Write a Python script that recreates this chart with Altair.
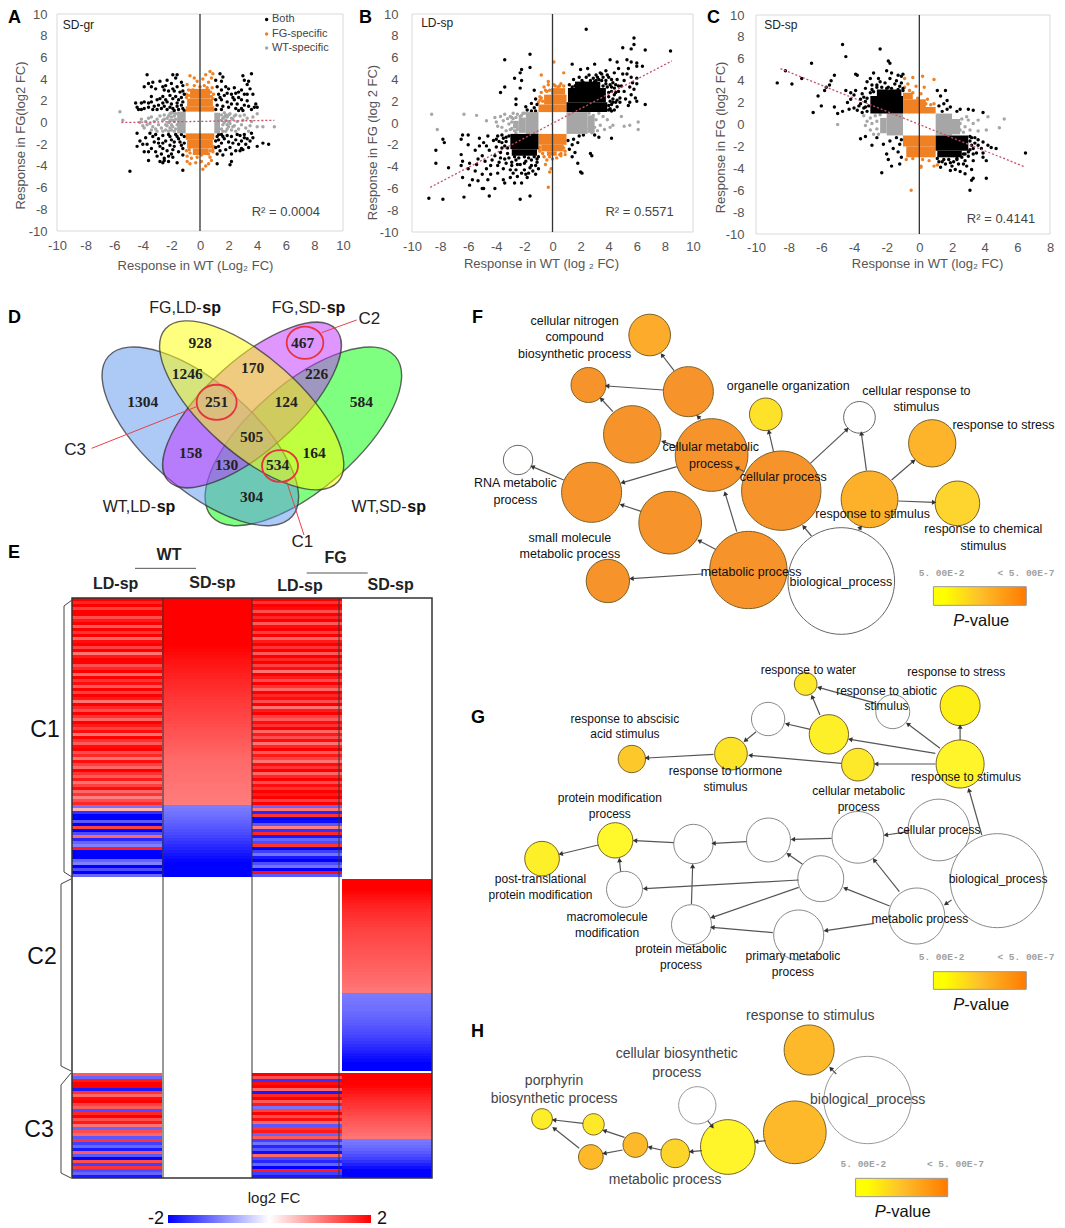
import math
import altair as alt
import pandas as pd

W, H = 1049, 1219
SANS = "Liberation Sans"
BLACK, ORANGE, GRAY = "#000000", "#f08024", "#a6a6a6"

# ---------- scatter data (log2 FC in WT, log2 FC in FG) ----------
A_both = [(-3.7,4.4),(-1.9,4.4),(-1.6,4.4),(-3.3,3.7),(-3.6,3.6),(-3.9,3.3),(-3.4,3.3),(-2.8,3.8),(-2.3,3.9),(-2,3.6),(-1.7,4.1),(-1.3,3.7),(-2.6,3.3),(-2.5,3),(-1.9,3.1),(-1.8,2.9),(-1.2,3.4),(-1.4,2.8),(-1.1,2.6),(-2.6,2.4),(-2.1,2.5),(-1.7,2.4),(-1.3,2.3),(-2.8,2.2),(-3.4,1.9),(-3.9,1.9),(-4.1,1.8),(-4.5,1.8),(-4.4,1.4),(-3.9,1.3),(-3.6,1.4),(-3.2,1.5),(-2.9,1.6),(-2.6,1.8),(-2.3,1.9),(-2,1.7),(-1.6,1.8),(-1.2,1.9),(-2.7,1.3),(-2.3,1.2),(-1.9,1.3),(-1.5,1.2),(-1.2,1.3),(-1.1,1.1),(-4.1,1.2),(-3,1.2),(-2.5,1.5),(-1.8,1.1),(-2.2,2.9),(-1.6,3.3),(-1.5,2.1),(-2.4,2.1),(-1.9,2.2),(-1.3,1.6),(-1.6,1.5),(-2.1,1.4),
(1.4,4.5),(1.6,4.2),(1.5,3.8),(1.1,3.9),(3,4.3),(3.6,4.5),(3.1,3.9),(3.4,3.8),(3.3,3.5),(3.5,3.1),(3.7,2.6),(2.9,3),(2.5,2.7),(2.2,2.6),(2,3.1),(1.8,3.3),(1.5,3),(1.2,3.3),(1.3,2.6),(1.7,2.5),(2.7,2.3),(2.4,2.1),(2.9,2.1),(3.3,2),(1.1,2.1),(1.5,2.1),(1.9,1.9),(2.2,1.7),(2.6,1.7),(3.1,1.6),(3.4,1.5),(3.9,1.7),(4,1.4),(3.6,1.2),(1.2,1.6),(1.6,1.5),(2,1.4),(2.5,1.3),(1.1,1.2),(1.5,1.2),(2.9,1.3),
(-4.9,-4.5),(-3.6,-3.5),(-2.8,-3.6),(-2.5,-3.5),(-2.2,-3.6),(-2.5,-3.3),(-2.6,-3.7),(-1.2,-4.4),(-1.6,-3.7),(-1.9,-3.2),(-2,-2.9),(-2.3,-2.6),(-2.6,-2.4),(-2.8,-2.2),(-3.1,-2.7),(-3.4,-2.4),(-3.6,-2.7),(-3.9,-2.7),(-4,-2),(-4.2,-1.7),(-4.4,-2.2),(-4.4,-1),(-3.5,-1),(-3.3,-1.3),(-3.1,-1.1),(-3.2,-1.8),(-2.9,-1.5),(-2.6,-1.2),(-2.4,-1.7),(-2.2,-1.1),(-2,-1.6),(-1.8,-2.2),(-1.6,-1.3),(-1.4,-1.8),(-1.2,-2.4),(-1.1,-1.3),(-1.3,-1.1),(-1.7,-1.1),(-1.9,-2.5),(-1.5,-2.7),(-1.2,-3),(-2.1,-2.1),(-2.9,-1.9),(-1.1,-1.9),
(1.2,-3.8),(2.1,-3.9),(2.2,-3.6),(1.6,-3),(1.2,-2.9),(1.1,-2.3),(1.4,-2.6),(1.1,-1.7),(1.2,-1.3),(1.5,-1.1),(1.7,-1.5),(2,-1.8),(2.2,-1.3),(2.5,-1.6),(2.8,-1.2),(3.1,-1.1),(3.3,-1.5),(3.6,-1),(3.2,-2),(2.9,-2.4),(2.7,-2),(2.5,-2.6),(2.2,-2.9),(3,-2.5),(3.4,-2.3),(4,-2.2),(4.4,-1.9),(4.8,-2),(3.5,-1.7),(2.1,-2.3),(1.5,-1.9),(1.8,-2.5),
(-3.4,2.4),(-3,2.1),(-3.1,3.1),(-2.4,3.4),(-1.2,2.9),(-3.6,1.8),(-3.3,1.2),(-4.3,1.2),(2.4,3.2),(2.7,2.8),(3.1,2.6),(3.3,2.6),(1.4,2.3),(1.9,2.7),(2.3,2.3),(3,1.1),(3.8,1.4),(2.7,1.1),(-3.8,-1.4),(-3.7,-2),(-3,-3.1),(-2.7,-2.9),(-2.2,-3.1),(-2.6,-1.9),(-2.1,-1.3),(-1.5,-1.5),(-1.8,-1.8),(-1.3,-2.1),(1.3,-1.1),(1.3,-1.6),(1.6,-1.3),(1.9,-1.2),(2.3,-1.9),(2.6,-1.1),(2.9,-1.7),(3.1,-1.4),(2.8,-2.6),(1.3,-2.2),(3.7,-1.4)]
A_fg = [(-.7,4.3),(-.4,4.1),(.7,4.7),(.9,4.5),(.4,4.4),(.8,4.1),(.2,4),(-.2,3.8),(.6,3.7),(-.9,3.5),(-.8,3),(-.95,2.6),(.95,2.6),(.85,3.2),(.9,2.2),(.3,3.4),(-.4,3.4),(-.9,-3.6),(-.7,-3.8),(-.3,-3.7),(.1,-3.6),(.2,-4.3),(.4,-4),(.6,-3.8),(.8,-3.5),(-.6,-3.3),(-.9,-3.1),(-.2,-3.2),(.7,-3.2),(.9,-2.7),(-.95,-2.6),(.95,-2.2),(-.7,-2.8),(.6,-2.9),(-.95,2.3),(-.8,2.5),(.8,2.4),(.75,2.8),(-.75,-2.5),(.7,-2.6),(.9,-2.5),(-.5,3),(.5,3.2),(0,3.3),(-.3,-2.8),(.1,-3)]
A_wt = [(-5.6,1),(-5.4,.2),(-4.1,.3),(-4,-.3),(-3.9,-.5),(-3.8,.1),(-3.6,.4),(-3.5,-.1),(-3.4,.5),(-3.3,-.4),(-3.2,.1),(-3.1,-.6),(-3,.3),(-2.9,-.2),(-2.8,.6),(-2.7,-.5),(-2.6,.2),(-2.5,.7),(-2.4,-.2),(-2.4,-.7),(-2.3,.4),(-2.2,0),(-2.1,.8),(-2.1,-.5),(-3.7,-.2),(-3.4,-.7),(-3,-.8),(-2.6,-.8),(-2,.5),(-2,-.2),(-1.9,.9),(-1.8,-.8),(-4.2,0),(5.2,-.4),(4.4,-.4),(4,-.4),(4,.8),(3.7,.5),(3.6,.1),(3.5,-.3),(3.3,.4),(3.2,-.5),(3,.2),(2.9,-.2),(2.8,.6),(2.7,-.6),(2.6,.1),(2.5,.7),(2.4,-.3),(2.3,.3),(2.2,-.7),(2.1,.8),(2,.1),(2,-.4),(1.9,.5),(1.8,-.8),(1.7,.9),(1.7,0),(1.6,.4),(1.5,-.6),
(-2.5,.3),(-2.3,-.3),(-2.2,.6),(-2.2,-.8),(-2.1,.2),(-2,.9),(-2,-.7),(-1.9,.2),(-1.9,-.4),(-1.8,.6),(-1.8,.1),(-1.7,-.6),(-1.7,.8),(-1.7,.3),(-1.6,-.2),(1.5,.7),(1.5,.2),(1.6,-.2),(1.6,-.8),(1.7,.5),(1.8,.2),(1.8,.7),(1.9,-.2),(1.9,-.6),(2,.7),(2.1,-.1),(2.2,.4),(2.3,-.4),(2.4,.6),(2.5,-.8),(3.1,.7),(3.4,-.8)]
A_blocks = [(-1,1,1,1.5,ORANGE),(-.9,.9,1.5,2.2,ORANGE),(-.7,.7,2.2,3.1,ORANGE),(-1,1,-1,-1.6,ORANGE),(-.9,.9,-1.6,-2.4,ORANGE),(-.5,.6,-2.4,-3,ORANGE),(-1.6,-1,-1,1,GRAY),(1,1.4,-1,.9,GRAY)]

B_both = [(2.4,8.6),(5.8,7.8),(5.8,7.2),(5.6,6.8),(5,6.9),(6.6,6.7),(8.4,6.6),(-3.4,5.8),(-1.6,6.3),(-2.2,4.9),(-2.3,4.6),(-1.6,5.1),(-2.7,4.1),(-2.2,3.9),(-3.7,2.8),(-2.3,3.2),(-3.4,3.3),(-2.6,2.2),(-1.3,3),(-2.6,1.7),(-1.9,1.5),(-1.5,1.8),(-1.2,2.2),(-1.3,1.4),(-1.8,1.2),(-1.5,1.1),(-1.2,1.1),(-1.1,1.7),
(1.4,5.4),(2,4.9),(2.5,5),(3,5.4),(4.1,5.8),(4.6,5.6),(5.3,5.8),(5.6,5.6),(6,5.5),(6,5.2),(6.4,5.2),(4.7,5),(5.4,5),(3.8,4.8),(3.4,4.6),(4.4,4.6),(5,4.5),(5.3,4.5),(5.6,4.2),(6,4.1),(4,4.2),(3.6,4.2),(2.9,4.1),(2.4,4.2),(1.9,4.2),(1.5,4),(4.6,4),(5.1,3.9),(5.7,3.7),(6,3.6),(4.3,3.7),(4.9,3.4),(5.5,3.3),(5.8,3.1),(4.4,3.2),(5.1,2.9),(4.7,2.9),(5.6,2.6),(5.9,2.3),(6.6,1.7),(5.2,2.2),(4.8,2.3),(4.4,2.6),(5.5,1.9),(4.3,1.9),(4.6,1.5),(4.1,1.3),(4.2,1.7),(3.3,4),(2.2,3.7),(1.4,3.3),(1.2,3.5),(5.4,1.6),(6,2),(4.1,3.5),(3.8,3.9),(3.1,4.4),(2.7,3.9),(4.2,2.9),(4,2.4),
(1.9,-1.2),(1.5,-1.5),(1.1,-1.6),(1.4,-2),(1.8,-1.8),(2.2,-1.1),(1.2,-2.4),(1.6,-2.7),(1.4,-3.1),(1.8,-3.7),(2,-4.5),(2.1,-4.6),(2.7,-2.8),(2.8,-3),(3.3,-1.3),(4.2,-1.4),(3,-1.1),
(-8.8,-6.9),(-7.8,-7),(-6.3,-6.8),(-2.3,-7),(-1.6,-6.7),(-4.5,-6.7),(-5,-6),(-4.9,-6),(-4.1,-6),(-5.9,-5.7),(-6.4,-5),(-5.7,-5.2),(-5.3,-5.3),(-4.6,-5.2),(-3.4,-5.5),(-2.7,-5.5),(-2.2,-5.5),(-3.5,-5.2),(-3,-5),(-2.5,-4.9),(-1.8,-5),(-3.9,-4.6),(-4.4,-4.7),(-5,-4.7),(-5.5,-4.4),(-6,-4.2),(-6.5,-3.9),(-8.3,-3.7),(-7.4,-4.1),(-8.3,-2.5),(-7.8,-1.5),(-7.7,-1.8),(-6.4,-1.1),(-6.5,-1.5),(-6.5,-2.9),(-6.4,-3.5),(-6,-2),(-6,-1.1),(-5.9,-3.7),(-5.4,-3.8),(-5.5,-2.5),(-5.2,-1.4),(-5.2,-2.1),(-5,-3),(-4.9,-1.8),(-4.8,-3.5),(-4.6,-1.2),(-4.5,-2.5),(-4.4,-3.9),(-4.2,-1.6),(-4.1,-3),(-4,-2.2),(-3.9,-1.2),(-3.8,-3.6),(-3.7,-2.7),(-3.6,-1.8),(-3.5,-4.2),(-3.4,-3.3),(-3.3,-1.3),(-3.2,-2.3),(-2.9,-3.6),(-2.6,-3.4),(-2.3,-3.8),(-2,-4.3),(-1.7,-4.6),(-1.4,-4.4),(-1.2,-3.9),(-1.5,-3.4),(-1.1,-3.3),(-1.9,-3.5),(-1,-4.2),(-2.6,-4.3),(-1.2,-4.7),(-3,-4.3),(-4.7,-4.2),(-5.3,-3.3),(-4.3,-3.4),(-3.6,-2.3),(-4.7,-2.1),(-3.9,-3.9),
(4,1.2),(4.2,1.1),(4,1.6),(4.4,1.2),(4.1,2),(4.3,2.2),(4,2.8),(4.2,3.3),(3.9,3.3),(3.6,3.4),(3.8,3.6),(3.5,3.9),(3.1,3.9),(2.7,3.7),(2.4,3.6),(2,3.4),(1.7,3.5),(1.4,3),(1.6,3.4),(2.1,3.9),(3,3.8),(4.6,2.1),(4.5,1.9),(4.8,1.9),(4.5,2.8),(4.7,3.4),(4.5,3.5),(4.2,4),(3.9,4.4),(3.2,4.2),(2.6,4.4),(3.5,4.5),
(-3.1,-1.2),(-3.3,-1.7),(-3.2,-2.8),(-3.4,-2.1),(-3.5,-1.4),(-3.1,-3.2),(-3.3,-3.7),(-2.7,-3.1),(-2.4,-3.2),(-2,-3.1),(-1.7,-3.2),(-1.3,-3.1),(-2.9,-3.9),(-2.5,-3.8),(-2,-3.7),(-1.5,-3.9),(-3.7,-3.2),(-3.8,-1.7),(-4,-1.5),(-3.6,-1.1),(-2.8,-4.6),(-2.2,-4.6),(-1.9,-4.7),(-1.6,-4.1),(-1.1,-3.6),(-1,-3.1)]
B_fg = [(.1,5.6),(.8,4.6),(-.8,4.4),(-.3,3.8),(-.3,3.5),(-.5,3),(-.8,2.8),(-.9,2.4),(.1,3.5),(.4,3.3),(.6,3.6),(-.6,3.3),(-.3,-5.9),(-.2,-4.5),(-.1,-4.2),(-.5,-3.8),(-.4,-3.4),(.3,-3.2),(.6,-3),(.9,-2.9),(-1,1.9),(-.9,2.1),(-.7,2),(-.8,2.3),(-.4,2.9),(-.2,3),(.2,3.4),(.5,3.4),(.8,3.4),(-.9,-2.2),(-.95,-2.4),(-.9,-2.6),(-.7,-2.8),(-.6,-3.1),(.6,-2.8),(.8,-2.3),(.9,-2.6),(.5,-2.9),(0,-3.3),(-.2,-3.1)]
B_wt = [(-8.6,.8),(-8.2,-.6),(-6.3,.8),(-5.4,.7),(-4.7,.2),(-4.1,.5),(-4,.1),(-3.9,-.3),(-3.7,.6),(-3.6,-.4),(-3.5,.2),(-3.4,.8),(-3.3,-.7),(-3.2,.4),(-3.1,-.1),(-3,.6),(-3,-.6),(-2.9,.1),(-2.8,.9),(-2.7,-.3),(-2.6,.5),(-2.6,-.9),(6.1,.1),(6.1,-.6),(5.5,-.2),(4.9,.6),(5.1,-.3),(4.3,-.2),(4.1,-.4),(3.9,.3),(3.7,-.6),(3.6,.6),(3.4,-.2),(3.3,.9),(3.2,-.7),(3.1,.3),(3,-.4),(2.9,.7),(2.8,-.9),(2.7,.1),(2.6,.9),(2.6,-.5),(-2.8,.4),(-2.9,.5),(-2.5,.8),(-2.2,.7),(-2.1,.9),(-2.3,.6),(-2,.9),(-2.9,-.5),(-2.7,-.7),(-2.5,-.6)]
B_blocks = [(-1.9,-1,-1,1,GRAY),(-2.4,-1.9,-.9,.5,GRAY),(-2.8,-2.4,-.5,.2,GRAY),(1,2.5,-1,1,GRAY),(2.5,3,-.9,.7,GRAY),(-1,1,1,1.7,ORANGE),(-.6,1,1.7,2.6,ORANGE),(-.1,.9,2.6,3.2,ORANGE),(-1,1,-1,-2,ORANGE),(-.8,.8,-2,-2.6,ORANGE),(-.4,.3,-2.6,-3,ORANGE),(1,3.9,1,1.9,BLACK),(1.1,3.8,1.9,3.2,BLACK),(1.6,3.4,3.2,3.8,BLACK),(-3,-1,-1,-2.4,BLACK),(-2.9,-1.1,-2.4,-3,BLACK)]

C_both = [(-4.7,7.3),(-4.5,6.2),(-2.4,6.9),(-6.6,5.6),(-1.9,5.8),(-1.8,5.6),(-8.2,4.9),(-7.2,4.2),(-8.7,3.8),(-7.8,3.7),(-5.2,4.5),(-5.4,4),(-5.5,3.6),(-5.7,3.4),(-5.8,3.1),(-6.2,2.6),(-6.5,1.1),(-6,1.7),(-5.2,1.6),(-4.7,1.2),(-5,1),(-4.3,1.4),(-4.4,2),(-4,1.5),(-3.8,1.3),(-4.5,3.1),(-4.2,2.9),(-4,2.7),(-3.9,3.1),(-3.6,2.3),(-3.3,2.1),(-3.1,1.7),(-3.9,4.6),(-3.8,4.5),(-3.2,3.9),(-3,4.2),(-2.8,4.7),(-2.5,4.2),(-2,4.9),(-1.7,4.7),(-1.3,4.5),(-1.1,4.4),(-1.8,4.2),(-1,4.6),(-2.6,3.6),(-2.1,3.8),(-1.5,3.7),(-3.3,3.3),(-2.9,3.2),(-1.2,3.5),(-1.9,3.4),(-3.5,2.8),(-1,3.3),(-3.4,1.5),(-3.7,1.7),(-4.2,2.3),
(1.1,3.1),(1.6,3.1),(1.3,2.6),(1.7,2.2),(1.5,1.9),(1.2,1.7),(2.5,1.4),(3,1.4),(3.3,1.3),(2.3,1.2),(1.9,1.6),(1.4,1.2),(1.7,1.4),(3.9,1.1),
(-3.6,-1.3),(-3.3,-1.1),(-2.9,-1.9),(-2.6,-1.2),(-2.3,-4.4),(-1.9,-3.2),(-1.7,-3.8),(-1.2,-3.6),(-1.1,-3),(-1.3,-2.5),(-2,-2.7),(-1.6,-2.2),(-1.2,-1.8),(-1.8,-1.5),(-1.4,-1.2),(-1.1,-1.4),(-2.2,-1.8),
(6.5,-2.6),(4.7,-2.2),(3.9,-1.6),(4.2,-1.9),(4.4,-2.1),(3.8,-2.2),(3.9,-2.6),(4.1,-3.3),(4.1,-4.9),(3.9,-3),(3.4,-1.2),(3.6,-1.9),(3.3,-3.3),(3.2,-4.1),(3.3,-4.9),(3.2,-5.1),(3.1,-6),(2.8,-4.5),(2.5,-4.3),(2.2,-4.1),(2.4,-3.6),(2,-3.8),(1.6,-3.6),(1.3,-3.9),(2.8,-3.3),(3,-2.9),(3.3,-2.2),(3.5,-2.6),(1.2,-3.4),(1.8,-3.2),(2.3,-3.2),(2.7,-2.7),(3.1,-1.5),(3.4,-1.7),(3.1,-2.3),
(-3.2,1.2),(-3.3,1.6),(-3.2,2.4),(-3,2.9),(-2.8,3),(-2.6,3.4),(-2.3,3.4),(-2,3.3),(-1.7,3.3),(-1.3,3.2),(-1,3.1),(-3.5,1.1),(-3.6,1.9),(-3.4,2.5),(-2.4,3.9),(-1.4,4),(-2.9,3.6),(-1.1,3.8),
(3.1,-1.1),(3.2,-1.9),(3,-2.5),(2.8,-2.7),(2.6,-3),(2.3,-3.1),(1.9,-3.5),(1.5,-3.2),(1.1,-3.1),(2.7,-3.6),(3.3,-2.7),(3.2,-1.2),(3.6,-1.4),(2.9,-3.8),(2.1,-3.4),(1.4,-3.4),(1.9,-4.2)]
C_fg = [(-.9,4.2),(-.4,4.3),(.2,4.4),(.9,4.1),(-.7,3.7),(-.2,3.5),(.3,3.4),(-.9,3.4),(-.6,3.1),(-.4,2.9),(.1,2.8),(.5,2.3),(.9,1.9),(.7,1.8),(-.1,2.4),(.4,1.9),(-.5,-6),(.1,-3.8),(.1,-3.9),(1.1,-3.7),(.9,-3.8),(.6,-3.3),(.2,-3.2),(-.4,-3.1),(-.8,-3.2)]
C_wt = [(-5,0),(-3.4,.8),(-3.2,.3),(-3.3,-.1),(-3,.6),(-3,-.5),(-2.9,.1),(-2.8,-.9),(-2.7,.8),(-2.6,.3),(-2.6,-.4),(-2.5,-.9),(-2.4,.9),(5.2,.5),(4.9,-.3),(4.2,.7),(4.1,-.5),(3.6,-.6),(3.6,.4),(3.3,.1),(3.1,-.5),(3,.4),(2.9,.7),(2.8,-.2),(2.7,-.7),(2.6,.5),(2.5,.1),(2.5,-.5)]
C_blocks = [(-2,-1,-1,1,GRAY),(-2.4,-2,-.8,.6,GRAY),(1,2,-1,1,GRAY),(2,2.5,-.9,.5,GRAY),(-1,1,1,1.6,ORANGE),(-1,.4,1.6,2.3,ORANGE),(-1,-.4,2.3,2.9,ORANGE),(-1,1,-1,-2,ORANGE),(-.8,1,-2,-3,ORANGE),(-3,-1,1,2.6,BLACK),(-2.6,-1.1,2.6,3.2,BLACK),(1,3,-1,-2.4,BLACK),(1.1,2.6,-2.4,-3,BLACK)]

# ---------- heat map (log2 FC per gene row) ----------
COLS = ["WT LD-sp", "WT SD-sp", "FG LD-sp", "FG SD-sp"]
C1_wt_ld = [2,1.7,2,1.5,2,2,1.4,1.8,2,1.3,2,1.6,2,1.2,1.9,2,1.5,2,1.1,1.8,2,2,1.4,1.7,2,1.2,2,1.6,1.9,1.3,2,1.5,2,1.8,1.1,2,1.7,1.4,2,1.6,1.2,2,1.8,1.5,1.9,1.1,2,1.6,1.3,1.9,2,1.4,1.7,1.1,1.9,1.5,1.2,2,1.6,1.3,1.8,1.1,1.5,1.9,1.2,1.6,1.0,1.4,1.7,-1.1,.6,-1.6,-2,-2,-1.3,-2,1.5,-2,-1.4,1.2,-1.7,-1.2,-1,1.8,-2,-2,-2,-1.2,-1,-2,-1.4,-2,-1.2]
C1_wt_sd = [2,2,2,2,2,2,2,2,2,2,2,2,2,2,2,2,1.98,1.95,1.92,1.9,1.87,1.85,1.82,1.8,1.78,1.75,1.73,1.7,1.68,1.66,1.64,1.62,1.6,1.58,1.56,1.54,1.52,1.5,1.48,1.46,1.44,1.42,1.4,1.38,1.36,1.34,1.32,1.3,1.28,1.26,1.24,1.22,1.2,1.18,1.17,1.16,1.15,1.14,1.13,1.12,1.11,1.1,1.09,1.08,1.07,1.06,1.05,1.04,1.03,-1.03,-1.06,-1.1,-1.14,-1.18,-1.22,-1.27,-1.32,-1.37,-1.42,-1.48,-1.54,-1.6,-1.66,-1.72,-1.78,-1.84,-1.9,-1.95,-2,-2,-2,-2,-2]
C1_fg_ld = [2,1.6,2,1.9,1.4,2,1.7,2,1.3,1.9,2,1.5,2,1.2,1.8,2,1.6,2,1.3,2,1.7,2,1.5,1.9,1.1,2,1.8,1.4,2,1.6,1.2,2,1.7,1.9,1.4,2,1.1,1.8,2,1.5,1.3,1.9,1.6,2,1.2,1.8,1.4,1.9,1.1,1.7,2,1.3,1.8,1.5,1.1,1.9,1.6,2,1.2,1.7,2,1.4,1.9,1.6,2,1.8,2,1.5,2,-1.2,1.1,-1.7,1.6,-2,-1.9,-1.3,1,-1.6,1.7,-1.8,-1.2,-1.4,1.6,-2,-1.5,-1.1,-1.8,-2,-1.4,-1.1,-2,1.9,-1.3]
C2_fg_sd = [2,2,2,2,1.95,1.9,1.85,1.8,1.76,1.72,1.68,1.65,1.62,1.59,1.56,1.53,1.5,1.48,1.46,1.44,1.42,1.4,1.38,1.36,1.34,1.32,1.3,1.28,1.26,1.24,1.22,1.2,1.18,1.16,1.14,1.12,1.09,1.06,-1.04,-1.06,-1.08,-1.1,-1.12,-1.14,-1.17,-1.2,-1.23,-1.26,-1.3,-1.34,-1.38,-1.42,-1.47,-1.52,-1.58,-1.64,-1.7,-1.76,-1.82,-1.88,-1.94,-2,-2,-2]
C3_wt_ld = [1.3,-1.2,1.8,2,2,-1.8,1.6,1.2,1.9,2,1.5,1.3,-1.4,1.7,2,1.4,1.8,1.1,-1.2,1.4,1.2,-1.3,1.6,-1.5,-1.2,-1.8,1.3,-1.3,-2,1.4,-1.5,1.6,-1.4,-1.2,-1.8]
C3_fg_ld = [2,1.4,-1.6,1.9,2,1.2,-1.8,1.7,2,1.3,1.8,-1.1,1.5,2,1.4,1.9,1.2,-1.3,1.6,1.8,-1.2,1.3,-1.5,-1.1,-1.7,-1.3,-1.9,1.2,-1.4,-1.7,-1.2,-2,1.8,-1.5,-1.8]
C3_fg_sd = [2,2,2,2,1.95,1.88,1.82,1.76,1.7,1.65,1.6,1.55,1.5,1.45,1.4,1.35,1.3,1.26,1.22,1.18,1.13,1.08,-1.05,-1.1,-1.15,-1.22,-1.3,-1.4,-1.5,-1.62,-1.75,-1.88,-2,-2,-2]

# ---------- Venn ----------
venn_counts = [(600,158,"928"),(908,158,"467"),(562,252,"1246"),(758,233,"170"),(950,252,"226"),(428,337,"1304"),(650,337,"251"),(858,337,"124"),(1084,337,"584"),(755,440,"505"),(572,488,"158"),(942,488,"164"),(680,525,"130"),(833,525,"534"),(755,620,"304")]
venn_sets = [  # x, y, long diameter, angle, minor ratio, colour (in panel units); drawn in this order
    (910,439,731,319,.434,"#00ff00"),(601,439,731,41,.434,"#5b94ee"),(756,345,678,318,.40,"#c030ff"),(755,346,692,41.5,.417,"#ffff00")]
venn_plain = [(605,55,"FG,LD-"),(978,55,"FG,SD-"),(468,652,"WT,LD-"),(1220,652,"WT,SD-")]
venn_bold = [(607,55,"sp"),(980,55,"sp"),(470,652,"sp"),(1222,652,"sp")]
venn_marks = [(915,158,110,"C2"),(650,337,120,"C3"),(840,528,108,"C1")]
venn_callouts = [(965,128,1070,90),(590,350,275,475),(860,575,912,735)]
venn_callout_text = [(1108,87,"C2"),(225,480,"C3"),(907,757,"C1")]
heat_head = [(507,795,"WT"),(1007,805,"FG"),(347,882,"LD-sp"),(637,878,"SD-sp"),(900,888,"LD-sp"),(1172,885,"SD-sp")]
heat_head_rules = [(405,835,588,835),(920,849,1103,849)]

# ---------- networks: x, y, diameter, fill ----------
O1, Y1 = "#f7932b", "#fde229"
WHITE = "#ffffff"
F_nodes = [(490,105,125,"#fdab2a"),(332,255,105,O1),(590,275,150,O1),(445,403,172,O1),(650,465,218,O1),(150,480,88,WHITE),(340,577,180,O1),(543,668,188,O1),(382,843,130,O1),(745,810,232,O1),(985,843,320,WHITE),(830,572,238,O1),(790,343,98,Y1),(1032,352,95,WHITE),(1058,598,170,"#fdb02a"),(1220,430,142,"#fdb42a"),(1285,610,134,"#fed52f")]
F_edges = [(625,822,443,836),(660,748,618,722),(715,695,685,580),(908,708,888,680),(1030,690,1035,682),(468,634,418,615),(268,540,187,500),(560,500,420,548),(560,440,525,425),(395,335,365,297),(525,270,380,258),(553,212,522,165),(622,358,615,350),(810,455,798,395),(905,490,1000,388),(1050,512,1037,400),(1115,540,1172,483),(1132,603,1225,607),(735,515,715,503)]
F_labels = [(296,62,"cellular nitrogen"),(296,112,"compound"),(296,162,"biosynthetic process"),(848,258,"organelle organization"),(1179,272,"cellular response to"),(1179,322,"stimulus"),(1404,376,"response to stress"),(648,440,"cellular metabolic"),(648,491,"process"),(835,530,"cellular process"),(143,550,"RNA metabolic"),(143,601,"process"),(1066,642,"response to stimulus"),(1352,687,"response to chemical"),(1352,737,"stimulus"),(284,713,"small molecule"),(284,763,"metabolic process"),(752,815,"metabolic process"),(984,845,"biological_process")]

G_nodes = [(893,102,68,"#fde829"),(1118,185,102,WHITE),(1292,167,120,"#fdf019"),(796,207,100,WHITE),(953,253,118,"#fdf029"),(700,311,98,"#fde429"),(444,327,82,"#fdc92a"),(1028,344,98,"#fde929"),(1292,342,144,"#fff52a"),(1237,540,185,WHITE),(1028,562,155,WHITE),(797,570,132,WHITE),(603,582,118,WHITE),(401,571,106,"#fff82a"),(212,626,104,"#fdf029"),(425,718,108,WHITE),(932,686,138,WHITE),(1388,692,282,WHITE),(1180,798,168,WHITE),(598,824,120,WHITE),(875,855,150,WHITE)]
G_edges = [(1228,310,1008,268),(1228,342,1075,342),(985,340,750,316),(905,238,845,222),(930,195,910,140),(1075,160,928,113),(1240,295,1157,222),(1292,270,1292,230),(1348,555,1315,420),(655,313,483,324),(765,245,737,272),(1160,545,1100,555),(960,565,860,568),(740,575,655,580),(552,578,452,572),(357,585,260,612),(875,690,478,716),(415,665,412,630),(885,643,848,613),(875,712,652,802),(598,762,601,648),(808,848,652,832),(1110,768,995,715),(1135,725,1070,630),(1070,820,945,842),(1270,750,1255,762)]
G_labels = [(900,60,"response to water"),(1282,67,"response to stress"),(1102,122,"response to abiotic"),(1102,168,"stimulus"),(426,206,"response to abscisic"),(426,253,"acid stimulus"),(686,363,"response to hormone"),(686,410,"stimulus"),(1307,381,"response to stimulus"),(1030,423,"cellular metabolic"),(1030,471,"process"),(387,443,"protein modification"),(387,491,"process"),(1237,540,"cellular process"),(1390,686,"biological_process"),(208,687,"post-translational"),(208,734,"protein modification"),(380,800,"macromolecule"),(380,848,"modification"),(1188,808,"metabolic process"),(571,896,"protein metabolic"),(571,944,"process"),(860,918,"primary metabolic"),(860,966,"process")]

H_nodes = [(902,150,150,"#fdb92a"),(1053,300,262,WHITE),(613,316,112,WHITE),(865,397,188,"#fdb92a"),(692,441,164,"#fff52a"),(556,460,86,"#fdd52a"),(453,435,74,"#fdb92a"),(338,471,74,"#fdb92a"),(345,373,64,"#fde829"),(212,357,62,"#fdee29")]
H_edges = [(972,222,958,205),(790,422,765,425),(625,452,597,455),(520,450,490,442),(420,450,373,460),(425,412,373,392),(318,370,243,360),(308,445,243,385),(640,362,652,380)]
H_labels = [(905,48,"response to stimulus"),(560,162,"cellular biosynthetic"),(560,220,"process"),(243,242,"porphyrin"),(243,298,"biosynthetic process"),(1053,300,"biological_process"),(530,541,"metabolic process")]

letters = [(8,23,"A"),(359,23,"B"),(707,23,"C"),(8,323,"D"),(8,558,"E"),(472,323,"F"),(471,723,"G"),(471,1037,"H")]


class Panel:
    def __init__(self, xd, xr, yd, yr):
        self.xs = alt.Scale(domain=xd, range=xr, nice=False, zero=False)
        self.ys = alt.Scale(domain=yd, range=yr, nice=False, zero=False)

    def X(self, axis=None):
        return alt.X("x:Q", scale=self.xs, axis=axis)

    def Y(self, axis=None):
        return alt.Y("y:Q", scale=self.ys, axis=axis)


def pts(p, rows, color, size):
    df = pd.DataFrame(rows, columns=["x", "y"])
    return alt.Chart(df).mark_point(filled=True, color=color, size=size, opacity=1, strokeWidth=0).encode(x=p.X(), y=p.Y())


def boxes(p, rows, **mark):
    df = pd.DataFrame(rows, columns=["x", "x2", "y", "y2", "c"])
    return alt.Chart(df).mark_rect(**mark).encode(x=p.X(), x2="x2:Q", y=p.Y(), y2="y2:Q", fill=alt.Fill("c:N", scale=None))


def segs(p, rows, color, width, dash=None):
    df = pd.DataFrame(rows, columns=["x", "y", "x2", "y2"])
    kw = {"strokeDash": dash} if dash else {}
    return alt.Chart(df).mark_rule(color=color, strokeWidth=width, **kw).encode(x=p.X(), y=p.Y(), x2="x2:Q", y2="y2:Q")


def txt(p, rows, size, color="#111111", font=SANS, align="center", baseline="middle", **kw):
    df = pd.DataFrame(rows, columns=["x", "y", "t"])
    return alt.Chart(df).mark_text(fontSize=size, color=color, font=font, align=align, baseline=baseline, **kw).encode(x=p.X(), y=p.Y(), text="t:N")


def ell(r):
    return f"M-1,0 A1,{r} 0 1,0 1,0 A1,{r} 0 1,0 -1,0 Z"


def x_axis(ybot, xc, yc, title, size, pad, tsize, vals):
    return alt.Axis(orient="bottom", offset=(ybot - 8) - H, values=vals, ticks=False, domain=False, grid=False,
                    labelFont=SANS, labelFontSize=size, labelColor="#555555", labelPadding=pad, labelOverlap=False,
                    labelExpr="'' + datum.value", labelFlush=False,
                    title=title, titleFont=SANS, titleFontSize=tsize, titleFontWeight="normal", titleColor="#555555",
                    titleX=xc - 8, titleY=yc - ybot, titleBaseline="middle", titleAlign="center")


def y_axis(xleft, xc, yc, title, size, pad, tsize):
    return alt.Axis(orient="left", offset=-(xleft - 8), values=list(range(-10, 11, 2)), ticks=False, domain=False, grid=False,
                    labelFont=SANS, labelFontSize=size, labelColor="#555555", labelPadding=pad, labelOverlap=False,
                    labelExpr="'' + datum.value", labelFlush=False,
                    title=title, titleFont=SANS, titleFontSize=tsize, titleFontWeight="normal", titleColor="#555555",
                    titleX=xc - xleft, titleY=yc - 8, titleBaseline="middle", titleAlign="center")


def scatter(xd, xl, xr, yt, yb, both, fg, wt, blocks, trend, xa, ya, note, r2):
    p = Panel(xd, [xl - 8, xr - 8], [-10, 10], [yb - 8, yt - 8])
    frame = pd.DataFrame([dict(x=xd[0], x2=xd[1], y=-10, y2=10)])
    out = [alt.Chart(frame).mark_rect(fillOpacity=0, stroke="#d9d9d9", strokeWidth=1).encode(
        x=p.X(xa), x2="x2:Q", y=p.Y(ya), y2="y2:Q")]
    out.append(pts(p, wt, GRAY, 12))
    out.append(pts(p, fg, ORANGE, 12))
    out.append(pts(p, both, BLACK, 12))
    out.append(boxes(p, blocks))
    out.append(segs(p, [(0, -10, 0, 10)], "#333333", 1.3))
    out.append(segs(p, [trend], "#c8506a", 1.3, [2, 2]))
    out.append(txt(p, [note], 12, "#222222", align="left"))
    out.append(txt(p, [r2], 13, "#444444"))
    return p, out


layers = []
vals20 = list(range(-10, 11, 2))
pA, l = scatter([-10, 10], 57, 343, 14, 231, A_both, A_fg, A_wt, A_blocks, (-5.5, 0, 5.2, .2),
                x_axis(231, 195, 265, "Response in WT (Log\u2082 FC)", 13, 8, 13, vals20),
                y_axis(57, 20, 135, "Response in FG(log2 FC)", 13, 10, 13),
                (-9.6, 9, "SD-gr"), (6, -8.25, "R\u00b2 = 0.0004"))
layers += l
layers.append(pts(pA, [(4.66, 9.5)], BLACK, 12))
layers.append(pts(pA, [(4.66, 8.16)], ORANGE, 12))
layers.append(pts(pA, [(4.66, 6.87)], GRAY, 12))
layers.append(txt(pA, [(5.03, 9.5, "Both"), (5.03, 8.16, "FG-specific"), (5.03, 6.87, "WT-specific")], 11, "#444444", align="left"))

pB, l = scatter([-10, 10], 412, 693, 14, 232, B_both, B_fg, B_wt, B_blocks, (-8.7, -5.9, 8.5, 5.7),
                x_axis(232, 541, 263, "Response in WT (log \u2082 FC)", 13, 8, 13, vals20),
                y_axis(412, 372, 142, "Response in FG (log 2 FC)", 13, 14, 13),
                (-9.35, 9.2, "LD-sp"), (6.2, -8.2, "R\u00b2 = 0.5571"))
layers += l

pC, l = scatter([-10, 8], 756, 1050, 15, 234, C_both, C_fg, C_wt, C_blocks, (-8.5, 5.1, 6.5, -3.9),
                x_axis(234, 927, 263, "Response in WT (log\u2082 FC)", 13, 7, 13, list(range(-10, 9, 2))),
                y_axis(756, 720, 137, "Response in FG (log2 FC)", 13, 12, 13),
                (-9.5, 9.1, "SD-sp"), (5, -8.6, "R\u00b2 = 0.4141"))
layers += l

# whole-figure panel (figure pixels)
fig = Panel([0, 1065], [-8, 1057], [0, 1228], [-8, 1220])
layers.append(txt(fig, letters, 18, "#000000", align="left", baseline="alphabetic", fontWeight="bold"))

# Venn + heat-map header panel
vp = Panel([0, 1350], [-8, 442], [0, 930], [282, 592])
for x, y, d, a, r, c in venn_sets:
    df = pd.DataFrame([dict(x=x, y=y, s=(d / 3) ** 2, a=a)])
    layers.append(alt.Chart(df).mark_point(shape=ell(r), filled=True, fill=c, fillOpacity=.5, stroke="#333333", strokeOpacity=.75, strokeWidth=1.4, opacity=1).encode(
        x=vp.X(), y=vp.Y(), size=alt.Size("s:Q", scale=None), angle=alt.Angle("a:Q", scale=None)))
layers.append(txt(vp, venn_counts, 15.5, "#222222", font="Liberation Serif", fontWeight="bold"))
layers.append(txt(vp, venn_plain, 16, "#222222", align="right"))
layers.append(txt(vp, venn_bold, 16, "#111111", align="left", fontWeight="bold"))
for x, y, d, lab in venn_marks:
    df = pd.DataFrame([dict(x=x, y=y, s=(d / 3) ** 2)])
    layers.append(alt.Chart(df).mark_point(shape=ell(.88), filled=False, stroke="#e8323c", strokeWidth=1.8, opacity=1).encode(
        x=vp.X(), y=vp.Y(), size=alt.Size("s:Q", scale=None)))
layers.append(segs(vp, venn_callouts, "#e8404a", 1))
layers.append(txt(vp, venn_callout_text, 17, "#222222"))
layers.append(txt(vp, heat_head, 16, "#222222", fontWeight="bold"))
layers.append(segs(vp, heat_head_rules, "#555555", 1))


# heat map: one band-scale layer per cluster
def heat(series, y0, y1):
    recs = []
    n = 0
    for col, vals in series:
        n = max(n, len(vals))
        recs += [dict(col=col, row=i, v=v) for i, v in enumerate(vals)]
    return alt.Chart(pd.DataFrame(recs)).mark_rect(stroke=None).encode(
        x=alt.X("col:N", scale=alt.Scale(domain=COLS, range=[64, 424], paddingInner=0, paddingOuter=0), axis=None),
        y=alt.Y("row:O", scale=alt.Scale(domain=list(range(n)), range=[y0 - 8, y1 - 8], paddingInner=0, paddingOuter=0), axis=None),
        color=alt.Color("v:Q", scale=alt.Scale(domain=[-2, 0, 2], range=["#0000ff", "#ffffff", "#ff0000"], interpolate="rgb"), legend=None))


layers.append(heat([("WT LD-sp", C1_wt_ld), ("WT SD-sp", C1_wt_sd), ("FG LD-sp", C1_fg_ld)], 598, 877))
layers.append(heat([("FG SD-sp", C2_fg_sd)], 879, 1071))
layers.append(heat([("WT LD-sp", C3_wt_ld), ("FG LD-sp", C3_fg_ld), ("FG SD-sp", C3_fg_sd)], 1073, 1178))
heat_frame = pd.DataFrame([dict(x=72, x2=432, y=598, y2=1178)])
layers.append(alt.Chart(heat_frame).mark_rect(fillOpacity=0, stroke="#333333", strokeWidth=1.5).encode(x=fig.X(), x2="x2:Q", y=fig.Y(), y2="y2:Q"))
heat_dividers = [(163, 598, 163, 1178), (252, 598, 252, 1178), (339, 598, 339, 1178)]
layers.append(segs(fig, heat_dividers, "#333333", 1))
braces = [(72, 600, 64, 606), (64, 606, 64, 872), (64, 872, 72, 877), (71, 879, 61, 884), (61, 884, 61, 1066), (61, 1066, 71, 1071), (71, 1073, 61, 1085), (61, 1085, 61, 1173), (61, 1173, 71, 1178)]
layers.append(segs(fig, braces, "#444444", 1))
layers.append(txt(fig, [(45, 730, "C1"), (42, 957, "C2"), (39, 1130, "C3")], 23, "#111111"))
layers.append(txt(fig, [(274, 1198, "log2 FC")], 15, "#222222"))
layers.append(txt(fig, [(156, 1219, "-2"), (382, 1219, "2")], 18, "#111111"))
fc_grad = alt.LinearGradient(gradient="linear", x1=0, x2=1, y1=0, y2=0, stops=[
    alt.GradientStop(color="#0000ff", offset=0), alt.GradientStop(color="#ffffff", offset=.5), alt.GradientStop(color="#ff0000", offset=1)])
fc_bar = pd.DataFrame([dict(x=168, x2=371, y=1215, y2=1223)])
layers.append(alt.Chart(fc_bar).mark_rect(fill=fc_grad).encode(x=fig.X(), x2="x2:Q", y=fig.Y(), y2="y2:Q"))

# networks
pv_grad = alt.LinearGradient(gradient="linear", x1=0, x2=1, y1=0, y2=0, stops=[
    alt.GradientStop(color="#ffff00", offset=0), alt.GradientStop(color="#ffff00", offset=.12),
    alt.GradientStop(color="#fdc02a", offset=.5), alt.GradientStop(color="#ff7a00", offset=1)])


def network(p, nodes, edges, labels, lab_size, lab_color, white_stroke, bar, lo, hi, pv):
    out = []
    df = pd.DataFrame(nodes, columns=["x", "y", "h", "fill"])
    df["s"] = (df["h"] / 3) ** 2
    df["stroke"] = [white_stroke if f == WHITE else "#7a6228" for f in df["fill"]]
    out.append(alt.Chart(df).mark_point(shape=ell(1), filled=True, strokeWidth=1, opacity=1).encode(
        x=p.X(), y=p.Y(), size=alt.Size("s:Q", scale=None), fill=alt.Fill("fill:N", scale=None), stroke=alt.Stroke("stroke:N", scale=None)))
    out.append(segs(p, edges, "#555555", 1.2))
    k = 1563 / 605 / 3  # panel x units vs y units
    heads = pd.DataFrame([dict(x=x2, y=y2, a=math.degrees(math.atan2((x2 - x1) / k, -(y2 - y1))) % 360) for x1, y1, x2, y2 in edges])
    out.append(alt.Chart(heads).mark_point(shape="triangle-up", filled=True, color="#333333", size=26, opacity=1, strokeWidth=0).encode(
        x=p.X(), y=p.Y(), angle=alt.Angle("a:Q", scale=None)))
    out.append(txt(p, labels, lab_size, lab_color))
    b = pd.DataFrame([dict(x=bar[0], x2=bar[1], y=bar[2], y2=bar[3])])
    out.append(alt.Chart(b).mark_rect(fill=pv_grad, stroke="#999999", strokeWidth=1).encode(x=p.X(), x2="x2:Q", y=p.Y(), y2="y2:Q"))
    out.append(txt(p, [(lo[0], lo[1], "5. 00E-2"), (hi[0], hi[1], "< 5. 00E-7")], 9.5, "#a0a0a0", font="Liberation Mono", fontWeight="bold"))
    out.append(txt(p, [(pv[0], pv[1], "P")], 16.5, "#111111", align="right", fontStyle="italic"))
    out.append(txt(p, [(pv[0], pv[1], "-value")], 16.5, "#111111", align="left"))
    return out


pF = Panel([0, 1563], [452, 1057], [0, 1020], [292, 632])
pG = Panel([0, 1563], [452, 1057], [0, 1080], [642, 1002])
pH = Panel([0, 1563], [452, 1057], [0, 684], [992, 1220])
layers += network(pF, F_nodes, F_edges, F_labels, 12.5, "#111111", "#666666", (1223, 1463, 860, 916), (1244, 820), (1462, 820), (1303, 962))
layers += network(pG, G_nodes, G_edges, G_labels, 12, "#111111", "#888888", (1223, 1463, 965, 1018), (1244, 922), (1462, 922), (1303, 1064))
layers += network(pH, H_nodes, H_edges, H_labels, 14, "#444444", "#999999", (1022, 1260, 535, 590), (1042, 492), (1280, 492), (1100, 635))

chart = (
    alt.layer(*layers)
    .resolve_scale(x="independent", y="independent", color="independent")
    .properties(width=W, height=H, padding=0, autosize=alt.AutoSizeParams(type="none", contains="padding"))
    .configure_view(stroke=None)
)
chart.save("out.html", embed_options={"renderer": "svg", "actions": False})
